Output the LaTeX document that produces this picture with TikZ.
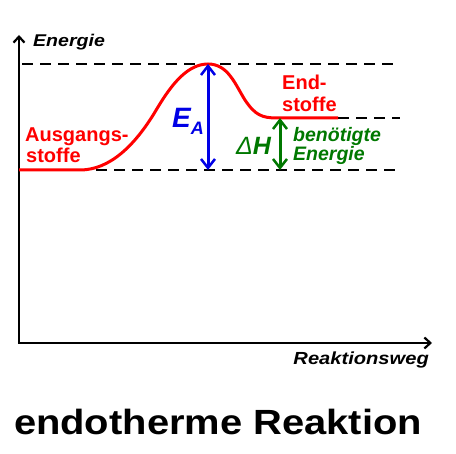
\documentclass[tikz,border=0pt]{standalone}
\usepackage{fontspec}
\setmainfont{Liberation Sans}
\usetikzlibrary{arrows.meta}
\definecolor{myred}{RGB}{255,0,0}
\definecolor{myblue}{RGB}{0,0,230}
\definecolor{mygreen}{RGB}{0,120,0}
\newcommand{\fs}[1]{\fontsize{#1}{#1}\selectfont}
\begin{document}
\begin{tikzpicture}[x=1pt,y=-1pt,
  axis/.style={line width=2.5pt,-{Straight Barb[length=6pt,width=11pt,line width=2.2pt]}},
  level/.style={line width=2pt,dash pattern=on 11pt off 7pt},
  curve/.style={line width=3pt,myred},
  dbl/.style={line width=3pt,{Straight Barb[length=9pt,width=14pt,line width=2.5pt]}-{Straight Barb[length=9pt,width=14pt,line width=2.5pt]}},
  lab/.style={inner sep=0pt,anchor=base west},
]
\useasboundingbox (0,0) rectangle (456,454);
% coordinates
\coordinate (origin) at (19,343);
\coordinate (ytop) at (19,35);
\coordinate (xend) at (432,343);
\coordinate (start) at (19,170);
\coordinate (rise) at (80,170);
\coordinate (infl) at (155,112);
\coordinate (peak) at (208,64);
\coordinate (prod) at (277,118);
\coordinate (prodend) at (338,118);
\coordinate (topL) at (22,64);
\coordinate (topR) at (400,64);
\coordinate (midR) at (400,118);
\coordinate (botL) at (96,170);
\coordinate (botR) at (400,170);
\coordinate (eatop) at (208,64);
\coordinate (eabot) at (208,170);
\coordinate (dhtop) at (280,118);
\coordinate (dhbot) at (280,170);
% axes
\draw[axis] (origin) -- (ytop);
\draw[axis] ([xshift=-1.25pt]origin) -- (xend);
% dashed levels
\draw[level] (topL) -- (topR);
\draw[level] (prodend) -- (midR);
\draw[level] (botL) -- (botR);
% energy curve
\draw[curve] (start) -- (rise) .. controls (110,170) and (135,145) .. (infl)
  .. controls (168,90) and (185,64) .. (peak)
  .. controls (228,64) and (235,84) .. (245,100)
  .. controls (255,115) and (262,118) .. (prod) -- (prodend);
% arrows
\draw[dbl,myblue] (eatop) -- (eabot);
\draw[dbl,mygreen] (dhtop) -- (dhbot);
% labels
\node[lab] (energie) at (33,47) {\scalebox{1.15}[1]{\fs{17}\bfseries\itshape Energie}};
\node[inner sep=0pt,anchor=base east] (weg) at (429,365) {\scalebox{1.15}[1]{\fs{17.5}\bfseries\itshape Reaktionsweg}};
\node[inner sep=0pt,anchor=base] (title) at (218,435) {\scalebox{1.14}[1]{\fs{35}\bfseries endotherme Reaktion}};
\node[lab,myred] (aus1) at (25,142) {\fs{20}\bfseries Ausgangs-};
\node[lab,myred] (aus2) at (26,163) {\fs{20}\bfseries stoffe};
\node[lab,myred] (end1) at (282,90) {\fs{20}\bfseries End-};
\node[lab,myred] (end2) at (282,112) {\fs{20}\bfseries stoffe};
\node[lab,mygreen] (ben1) at (293,142) {\fs{19.5}\bfseries\itshape benötigte};
\node[lab,mygreen] (ben2) at (293,161) {\fs{19.5}\bfseries\itshape Energie};
\node[lab,myblue] (ea) at (172,128) {\fs{28}\bfseries\itshape E\raisebox{-7pt}{\fs{18}A}};
\node[lab,mygreen] (dh) at (236,155) {\fs{25}\itshape Δ\bfseries H};
\end{tikzpicture}
\end{document}
